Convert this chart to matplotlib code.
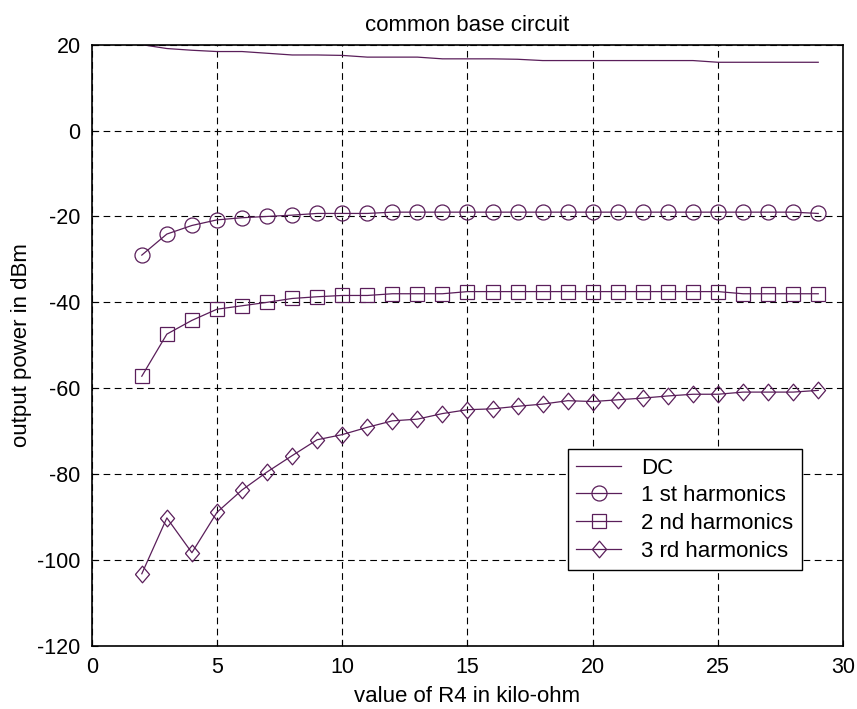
import numpy as np
from matplotlib import pyplot as plt

plt.rcParams['font.family'] = ['Liberation Sans', 'DejaVu Sans']
plt.rcParams['axes.unicode_minus'] = False

# R4 in kilo-ohm
r4 = list(range(2, 30))

dc = [20.0, 19.1, 18.7, 18.4, 18.4, 18.0, 17.6, 17.6, 17.5, 17.1, 17.1, 17.1, 16.7, 16.7,
      16.7, 16.6, 16.3, 16.3, 16.3, 16.3, 16.3, 16.3, 16.3, 15.9, 15.9, 15.9, 15.9, 15.9]
h1 = [-29.0, -24.1, -22.1, -20.8, -20.3, -20.0, -19.7, -19.3, -19.3, -19.3, -19.0, -19.0,
      -19.0, -19.0, -19.0, -19.0, -19.0, -19.0, -19.0, -19.0, -19.0, -19.0, -19.0, -19.0,
      -19.0, -19.0, -19.0, -19.3]
h2 = [-57.2, -47.4, -44.2, -41.6, -40.8, -40.0, -39.1, -38.7, -38.4, -38.4, -38.0, -38.0,
      -38.0, -37.5, -37.5, -37.5, -37.5, -37.5, -37.5, -37.5, -37.5, -37.5, -37.5, -37.5,
      -38.0, -38.0, -38.0, -38.0]
h3 = [-103.2, -90.2, -98.3, -88.9, -83.7, -79.5, -75.7, -72.0, -70.8, -69.1, -67.6, -67.2,
      -65.9, -65.0, -64.8, -64.2, -63.7, -62.9, -63.1, -62.7, -62.3, -61.8, -61.4, -61.4,
      -60.9, -60.9, -60.9, -60.5]

col = '#5a1e5a'
# matlab style diamond, a bit taller than wide
diamond = [(-0.85, 0), (0, 1), (0.85, 0), (0, -1), (-0.85, 0)]

fig = plt.figure(figsize=(8.57, 7.09), dpi=100)
ax = fig.add_axes([0.107, 0.089, 0.877, 0.848])

ax.plot(r4, dc, color=col, lw=0.9, label='DC')
ax.plot(r4, h1, color=col, lw=0.9, marker='o', ms=10.8, mfc='none', mec=col, mew=0.9,
        label='1 st harmonics')
ax.plot(r4, h2, color=col, lw=0.9, marker='s', ms=10, mfc='none', mec=col, mew=0.9,
        label='2 nd harmonics')
ax.plot(r4, h3, color=col, lw=0.9, marker=diamond, ms=12, mfc='none', mec=col, mew=0.9,
        label='3 rd harmonics')

ax.set_xlim(0, 30)
ax.set_ylim(-120, 20)
ax.set_xticks(np.arange(0, 31, 5))
ax.set_yticks(np.arange(-120, 21, 20))
ax.grid(True, color='black', linestyle=(0, (6, 4)), linewidth=0.8)
ax.tick_params(direction='in', length=4, labelsize=15.5, pad=8)
for s in ax.spines.values():
    s.set_linewidth(1.2)

ax.set_title('common base circuit', fontsize=16, pad=10)
ax.set_xlabel('value of R4 in kilo-ohm', fontsize=16, labelpad=6)
ax.set_ylabel('output power in dBm', fontsize=16, labelpad=4)

leg = ax.legend(loc='upper right', bbox_to_anchor=(0.945, 0.328), fontsize=16,
                fancybox=False, framealpha=1, edgecolor='black', handlelength=2.0,
                labelspacing=0.3, borderpad=0.4, handletextpad=0.9, borderaxespad=0)
leg.get_frame().set_linewidth(1.0)

fig.savefig('out.png', dpi=100)
